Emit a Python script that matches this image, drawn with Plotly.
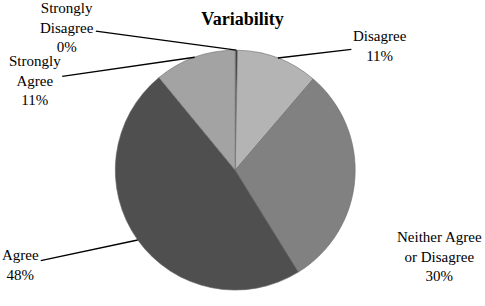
import numpy as np
import plotly.graph_objects as go

categories = ["Strongly Disagree", "Disagree", "Neither Agree or Disagree", "Agree", "Strongly Agree"]
label_text = ["Strongly<br>Disagree", "Disagree", "Neither Agree<br>or Disagree", "Agree", "Strongly<br>Agree"]
values = [0.3, 11, 30, 48, 11]
colors = ["#3c3c3c", "#b4b4b4", "#818181", "#4f4f4f", "#a3a3a3"]
# label text offsets (px) from the slice edge point, and whether a leader line shows
label_offsets = [(-169, -23), (102, -12), (85, 77), (-117, 25), (-160, 23)]
leader_visible = [True, True, False, True, True]

W, H = 485, 306
dom_x = [0.08, 0.89]
dom_y = [0.052, 0.836]
FONT = "Liberation Serif, Times New Roman, serif"

fig = go.Figure(go.Pie(
    labels=categories,
    values=values,
    textinfo="none",
    sort=False,
    direction="clockwise",
    rotation=0,
    automargin=False,
    marker=dict(colors=colors, line=dict(color="#6a6a6a", width=0.6)),
    domain=dict(x=dom_x, y=dom_y),
    showlegend=False,
    hoverinfo="label+percent",
))

vals = np.array(values, dtype=float)
frac = vals / vals.sum()
mid = (np.cumsum(frac) - frac / 2) * 2 * np.pi
cx = (dom_x[0] + dom_x[1]) / 2
cy = (dom_y[0] + dom_y[1]) / 2
r_px = min((dom_x[1] - dom_x[0]) * W, (dom_y[1] - dom_y[0]) * H) / 2
for i, lab in enumerate(label_text):
    px = cx + r_px * np.sin(mid[i]) / W
    py = cy + r_px * np.cos(mid[i]) / H
    fig.add_annotation(
        x=px, y=py, xref="paper", yref="paper",
        text=f"{lab}<br>{round(frac[i] * 100):.0f}%",
        showarrow=True, arrowhead=0, arrowwidth=1.3,
        arrowcolor="black" if leader_visible[i] else "rgba(0,0,0,0)",
        ax=label_offsets[i][0], ay=label_offsets[i][1],
        font=dict(family=FONT, size=15, color="black"),
        align="center",
    )

fig.update_layout(
    width=W, height=H,
    margin=dict(l=0, r=0, t=0, b=0),
    paper_bgcolor="white",
    title=dict(text="<b>Variability</b>", x=0.5, xanchor="center", y=0.94, yanchor="middle",
               font=dict(family=FONT, size=18, color="black")),
)

fig.write_html("out.html")
